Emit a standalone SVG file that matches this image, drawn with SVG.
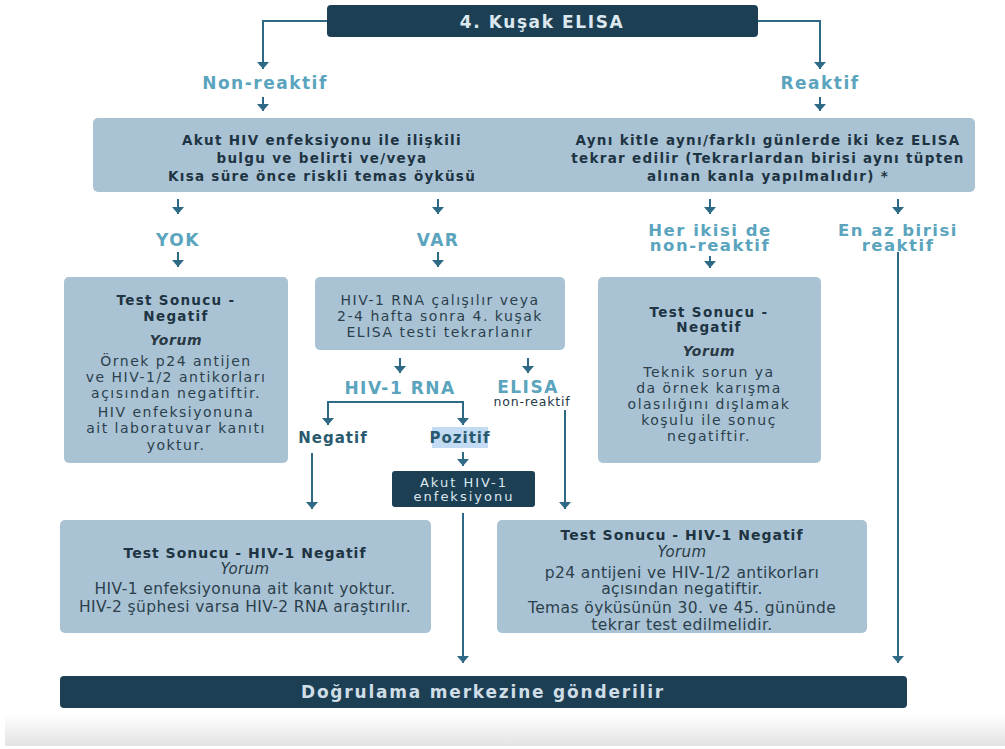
<svg xmlns="http://www.w3.org/2000/svg" width="1005" height="749" viewBox="0 0 1005 749">
  <defs>
    <marker id="ah" viewBox="0 0 7 12" refX="7" refY="6" markerWidth="7" markerHeight="12" markerUnits="userSpaceOnUse" orient="auto">
      <path d="M0,0 L7,6 L0,12 Z" fill="#2e6a85"/>
    </marker>
    <linearGradient id="band" x1="0" y1="0" x2="0" y2="1">
      <stop offset="0" stop-color="#ffffff"/>
      <stop offset="1" stop-color="#e3e3e3"/>
    </linearGradient>
    <style>
      .box{fill:#a9c3d5}
      .dark{fill:#1c3f54}
      .conn{stroke:#2e6a85;stroke-width:2;fill:none}
      text{font-family:"DejaVu Sans",sans-serif;text-anchor:middle}
      .lbl{font-weight:bold;font-size:17px;fill:#5ba4be;letter-spacing:1.5px}
      .lbl2{font-weight:bold;font-size:16.5px;fill:#5ba4be;letter-spacing:1.5px}
      .bt{font-weight:bold;font-size:13.5px;fill:#1e3442;letter-spacing:1.3px}
      .rt{font-size:14px;fill:#2c3f4b;letter-spacing:1.5px}
      .it{font-style:italic;font-weight:bold;font-size:14px;fill:#2a3a44;letter-spacing:0.6px}
      .bb{font-weight:bold;font-size:14px;fill:#1e3442;letter-spacing:1px}
      .br{font-size:15.5px;fill:#2c3f4b;letter-spacing:0.4px}
      .bi{font-style:italic;font-size:15px;fill:#2a3a44;letter-spacing:0.4px}
      .sm{font-weight:bold;font-size:15px;fill:#2a5a70;letter-spacing:1px}
      .wt{font-size:13px;fill:#dce8ef;letter-spacing:2px}
      .tiny{font-weight:normal;font-size:12.5px;fill:#1f3a48;letter-spacing:0.8px}
    </style>
  </defs>
  <rect x="0" y="0" width="1005" height="749" fill="#ffffff"/>
  <rect x="5" y="714" width="1000" height="32" fill="url(#band)"/>

  <g id="connectors">
    <path class="conn" d="M327,21 H263 V69" marker-end="url(#ah)"/>
    <path class="conn" d="M758,21 H820 V69" marker-end="url(#ah)"/>
    <path class="conn" d="M263,97 V111" marker-end="url(#ah)"/>
    <path class="conn" d="M820,97 V111" marker-end="url(#ah)"/>
    <path class="conn" d="M178,199 V214" marker-end="url(#ah)"/>
    <path class="conn" d="M438,199 V214" marker-end="url(#ah)"/>
    <path class="conn" d="M710,199 V214" marker-end="url(#ah)"/>
    <path class="conn" d="M898,199 V214" marker-end="url(#ah)"/>
    <path class="conn" d="M178,252 V267" marker-end="url(#ah)"/>
    <path class="conn" d="M438,252 V267" marker-end="url(#ah)"/>
    <path class="conn" d="M710,256 V268" marker-end="url(#ah)"/>
    <path class="conn" d="M400,358 V373" marker-end="url(#ah)"/>
    <path class="conn" d="M528,358 V373" marker-end="url(#ah)"/>
    <path class="conn" d="M396,402 H328 V425" marker-end="url(#ah)"/>
    <path class="conn" d="M396,402 H463 V425" marker-end="url(#ah)"/>
    <path class="conn" d="M463,452 V466" marker-end="url(#ah)"/>
    <path class="conn" d="M312,453 V509" marker-end="url(#ah)"/>
    <path class="conn" d="M565,410 V509" marker-end="url(#ah)"/>
    <path class="conn" d="M463,513 V663" marker-end="url(#ah)"/>
    <path class="conn" d="M898,252 V663" marker-end="url(#ah)"/>
  </g>

  <g id="elisa4">
    <rect class="dark" x="327" y="5" width="431" height="32" rx="4"/>
    <text class="lbl" x="542" y="28" style="fill:#dce8ef;letter-spacing:1.6px">4. Kuşak ELISA</text>
  </g>
  <g id="lbl-nonreaktif"><text class="lbl" x="265" y="89">Non-reaktif</text></g>
  <g id="lbl-reaktif"><text class="lbl" x="820" y="89">Reaktif</text></g>

  <g id="akut-box">
    <rect class="box" x="93" y="118" width="473" height="74" rx="5"/>
    <text class="bt" x="322" y="145">Akut HIV enfeksiyonu ile ilişkili</text>
    <text class="bt" x="322" y="163">bulgu ve belirti ve/veya</text>
    <text class="bt" x="322" y="181">Kısa süre önce riskli temas öyküsü</text>
  </g>
  <g id="tekrar-box">
    <rect class="box" x="549" y="118" width="426" height="74" rx="5"/>
    <text class="bt" x="768" y="145">Aynı kitle aynı/farklı günlerde iki kez ELISA</text>
    <text class="bt" x="768" y="163">tekrar edilir (Tekrarlardan birisi aynı tüpten</text>
    <text class="bt" x="768" y="181">alınan kanla yapılmalıdır) *</text>
  </g>

  <g id="lbl-yok"><text class="lbl" x="178" y="246">YOK</text></g>
  <g id="lbl-var"><text class="lbl" x="438" y="246">VAR</text></g>
  <g id="lbl-herikisi">
    <text class="lbl2" x="710" y="236">Her ikisi de<tspan x="710" dy="15">non-reaktif</tspan></text>
  </g>
  <g id="lbl-enaz">
    <text class="lbl2" x="898" y="236">En az birisi<tspan x="898" dy="15">reaktif</tspan></text>
  </g>

  <g id="yok-box">
    <rect class="box" x="64" y="277" width="224" height="186" rx="5"/>
    <text class="bt" x="176" y="305">Test Sonucu -</text>
    <text class="bt" x="176" y="321">Negatif</text>
    <text class="it" x="176" y="345">Yorum</text>
    <text class="rt" x="176" y="366">Örnek p24 antijen</text>
    <text class="rt" x="176" y="382">ve HIV-1/2 antikorları</text>
    <text class="rt" x="176" y="398">açısından negatiftir.</text>
    <text class="rt" x="176" y="417">HIV enfeksiyonuna</text>
    <text class="rt" x="176" y="433">ait laboratuvar kanıtı</text>
    <text class="rt" x="176" y="450">yoktur.</text>
  </g>

  <g id="var-box">
    <rect class="box" x="315" y="277" width="250" height="73" rx="5"/>
    <text class="rt" x="440" y="305">HIV-1 RNA çalışılır veya</text>
    <text class="rt" x="440" y="321">2-4 hafta sonra 4. kuşak</text>
    <text class="rt" x="440" y="337">ELISA testi tekrarlanır</text>
  </g>

  <g id="teknik-box">
    <rect class="box" x="598" y="277" width="223" height="186" rx="5"/>
    <text class="bt" x="709" y="317">Test Sonucu -</text>
    <text class="bt" x="709" y="332">Negatif</text>
    <text class="it" x="709" y="356">Yorum</text>
    <text class="rt" x="709" y="377">Teknik sorun ya</text>
    <text class="rt" x="709" y="393">da örnek karışma</text>
    <text class="rt" x="709" y="409">olasılığını dışlamak</text>
    <text class="rt" x="709" y="425">koşulu ile sonuç</text>
    <text class="rt" x="709" y="441">negatiftir.</text>
  </g>

  <g id="lbl-hiv1rna"><text class="lbl" x="400" y="394">HIV-1 RNA</text></g>
  <g id="lbl-elisa">
    <text class="lbl" x="528" y="393">ELISA<tspan class="tiny" x="532" dy="13">non-reaktif</tspan></text>
  </g>
  <g id="lbl-negatif"><text class="sm" x="333" y="443">Negatif</text></g>
  <g id="lbl-pozitif">
    <rect x="432" y="427" width="56" height="21" fill="#c3dbf3"/>
    <text class="sm" x="460" y="443">Pozitif</text>
  </g>

  <g id="akut-hiv1">
    <rect class="dark" x="392" y="471" width="143" height="36" rx="3"/>
    <text class="wt" x="464" y="487">Akut HIV-1</text>
    <text class="wt" x="464" y="501">enfeksiyonu</text>
  </g>

  <g id="neg-left-box">
    <rect class="box" x="60" y="520" width="371" height="113" rx="5"/>
    <text class="bb" x="245" y="558">Test Sonucu - HIV-1 Negatif</text>
    <text class="bi" x="245" y="574">Yorum</text>
    <text class="br" x="245" y="594">HIV-1 enfeksiyonuna ait kanıt yoktur.</text>
    <text class="br" x="245" y="612">HIV-2 şüphesi varsa HIV-2 RNA araştırılır.</text>
  </g>

  <g id="neg-right-box">
    <rect class="box" x="497" y="520" width="370" height="113" rx="5"/>
    <text class="bb" x="682" y="540">Test Sonucu - HIV-1 Negatif</text>
    <text class="bi" x="682" y="557">Yorum</text>
    <text class="br" x="682" y="578">p24 antijeni ve HIV-1/2 antikorları</text>
    <text class="br" x="682" y="594">açısından negatiftir.</text>
    <text class="br" x="682" y="613">Temas öyküsünün 30. ve 45. gününde</text>
    <text class="br" x="682" y="630">tekrar test edilmelidir.</text>
  </g>

  <g id="dogrulama">
    <rect class="dark" x="60" y="676" width="847" height="32" rx="4"/>
    <text class="lbl" x="483" y="698" style="fill:#cfdde6;letter-spacing:1.8px">Doğrulama merkezine gönderilir</text>
  </g>
</svg>
